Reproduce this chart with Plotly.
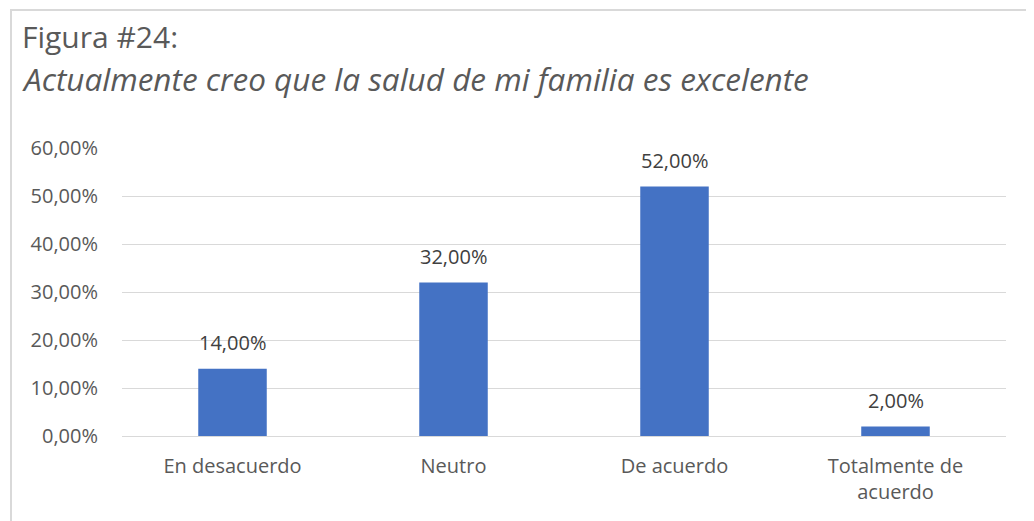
import plotly.graph_objects as go

categorias = ["En desacuerdo", "Neutro", "De acuerdo", "Totalmente de<br>acuerdo"]
porcentajes = [0.14, 0.32, 0.52, 0.02]
ticks_y = [0, 0.1, 0.2, 0.3, 0.4, 0.5, 0.6]

FONT = "Open Sans, Segoe UI, sans-serif"
OFF = 8  # margen del body de la pagina
W, H = 1034 - OFF, 521 - OFF
L, R, T, B = 122 - OFF, 28, 148 - OFF, 85
pw, ph = W - L - R, H - T - B


def px_x(x):
    return (x - OFF - L) / pw


def px_y(y):
    return (H + OFF - B - y) / ph


def fmt(v):
    return f"{v * 100:.2f}".replace(".", ",") + "%"


fig = go.Figure(go.Bar(
    x=categorias, y=porcentajes,
    marker=dict(color="#4472C4", line=dict(width=0)),
    hoverinfo="skip",
))

# etiquetas de datos
for c, v in zip(categorias, porcentajes):
    fig.add_annotation(x=c, y=v, text=fmt(v), showarrow=False,
                       yanchor="middle", yshift=26,
                       font=dict(family=FONT, size=20, color="#404040"))

# titulo
fig.add_annotation(xref="paper", yref="paper", x=px_x(20), y=px_y(37),
                   xanchor="left", yanchor="middle", showarrow=False,
                   text="Figura #24:",
                   font=dict(family=FONT, size=30, color="#595959"))
fig.add_annotation(xref="paper", yref="paper", x=px_x(20), y=px_y(78),
                   xanchor="left", yanchor="middle", showarrow=False,
                   text="<i>Actualmente creo que la salud de mi familia es excelente</i>",
                   font=dict(family=FONT, size=31.5, color="#595959"))

# borde del grafico
fig.add_shape(type="line", xref="paper", yref="paper",
              x0=px_x(11), x1=px_x(11), y0=px_y(10), y1=px_y(530),
              line=dict(color="#d9d9d9", width=2))
fig.add_shape(type="line", xref="paper", yref="paper",
              x0=px_x(10), x1=px_x(1040), y0=px_y(10), y1=px_y(10),
              line=dict(color="#d9d9d9", width=2))

fig.update_layout(
    width=W, height=H,
    margin=dict(l=L, r=R, t=T, b=B, pad=0),
    paper_bgcolor="white", plot_bgcolor="white",
    separators=",.",
    bargap=0.69,
    showlegend=False,
    xaxis=dict(showgrid=False, showline=False, zeroline=False, ticks="",
               ticklabelstandoff=16,
               tickfont=dict(family=FONT, size=20, color="#595959")),
    yaxis=dict(range=[0, 0.6], tickvals=ticks_y,
               ticktext=[fmt(t) for t in ticks_y],
               showgrid=True, gridcolor="#d9d9d9", gridwidth=1,
               zeroline=True, zerolinecolor="#d9d9d9", zerolinewidth=1,
               showline=False, ticks="", ticklabelstandoff=23,
               tickfont=dict(family=FONT, size=20, color="#595959")),
)

fig.write_html("out.html")
